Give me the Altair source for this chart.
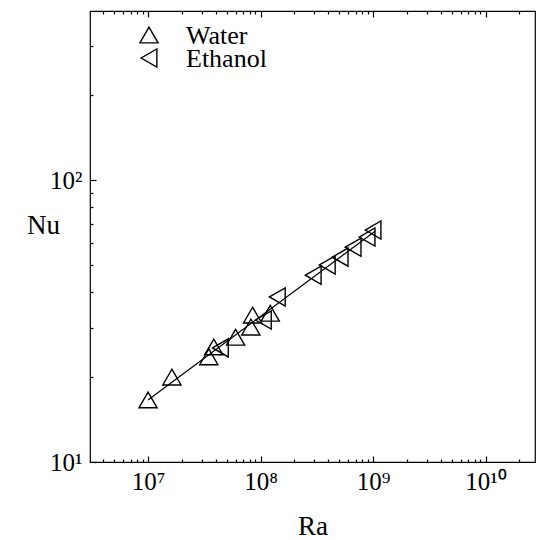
import altair as alt
import pandas as pd

# ---------------- data ----------------
water_ra = [1.0e7, 1.63e7, 3.47e7, 3.84e7, 6.0e7, 8.2e7, 8.5e7, 1.22e8]
water_nu = [16.6, 20.0, 23.6, 25.6, 27.7, 30.1, 33.2, 33.7]

ethanol_ra = [4.4e7, 1.06e8, 1.41e8, 2.94e8, 3.92e8, 5.1e8, 6.65e8, 8.85e8, 1.0e9]
ethanol_nu = [25.4, 31.9, 38.5, 46.0, 50.0, 53.3, 57.8, 62.8, 66.5]

fit_ra = [1.0e7, 1.05e9]
fit_nu = [16.6, 66.0]

x_major = [1e7, 1e8, 1e9, 1e10]
x_minor = [4e6, 5e6, 6e6, 7e6, 8e6, 9e6,
           2e7, 3e7, 4e7, 5e7, 6e7, 7e7, 8e7, 9e7,
           2e8, 3e8, 4e8, 5e8, 6e8, 7e8, 8e8, 9e8,
           2e9, 3e9, 4e9, 5e9, 6e9, 7e9, 8e9, 9e9,
           2e10]
y_major = [10, 100]
y_minor = [20, 30, 40, 50, 60, 70, 80, 90, 200, 300]

series_names = ["Water", "Ethanol"]
series_shapes = ["triangle-up", "triangle-left"]

pts_df = pd.DataFrame({
    "Ra": water_ra + ethanol_ra,
    "Nu": water_nu + ethanol_nu,
    "Fluid": ["Water"] * len(water_ra) + ["Ethanol"] * len(ethanol_ra),
})
fit_df = pd.DataFrame({"Ra": fit_ra, "Nu": fit_nu})

# ---------------- layout ----------------
W, H = 445, 451
FONT = "Liberation Serif"

xscale = alt.Scale(type="log", domain=[3.05e6, 2.75e10], nice=False)
yscale = alt.Scale(type="log", domain=[10, 398], nice=False)

sup = {1: "¹", 2: "²", 7: "⁷", 8: "⁸", 9: "⁹", 10: "¹⁰"}
expr = "''"
for k, v in sup.items():
    expr = f"(round(log(datum.value)/LN10) == {k} ? '{v}' : {expr})"
label_expr = "'10' + " + expr


def tick_axis(orient, values, size, offset):
    return alt.Axis(orient=orient, values=values, tickSize=size, tickWidth=1.2,
                    tickColor="black", labels=False, domain=False, grid=False,
                    title="", offset=offset)


x_label_axis = alt.Axis(orient="bottom", values=x_major, ticks=False, domain=False,
                        grid=False, labelExpr=label_expr, labelFont=FONT,
                        labelFontSize=25, labelColor="black", labelPadding=7,
                        title="Ra", titleFont=FONT, titleFontSize=27,
                        titleFontWeight="normal", titleColor="black",
                        titleBaseline="alphabetic", titleY=72)
y_label_axis = alt.Axis(orient="left", values=y_major, ticks=False, domain=False,
                        grid=False, labelExpr=label_expr, labelFont=FONT,
                        labelFontSize=25, labelColor="black", labelPadding=8,
                        title="Nu", titleFont=FONT, titleFontSize=27,
                        titleFontWeight="normal", titleColor="black",
                        titleAngle=0, titleAlign="center", titleBaseline="middle",
                        titleX=-47, titleY=214)

fit = alt.Chart(fit_df).mark_line(color="black", strokeWidth=1.2).encode(
    x=alt.X("Ra:Q", scale=xscale, axis=x_label_axis),
    y=alt.Y("Nu:Q", scale=yscale, axis=y_label_axis),
)

pts = alt.Chart(pts_df).mark_point(filled=False, color="black", strokeWidth=1.4,
                                   size=330, opacity=1).encode(
    x=alt.X("Ra:Q", scale=xscale, axis=tick_axis("top", x_major, 6, -H)),
    y=alt.Y("Nu:Q", scale=yscale, axis=tick_axis("right", y_major, 6, -W)),
    shape=alt.Shape("Fluid:N",
                    scale=alt.Scale(domain=series_names, range=series_shapes),
                    legend=None),
)

inv1 = alt.Chart(pts_df).mark_point(opacity=0).encode(
    x=alt.X("Ra:Q", scale=xscale, axis=tick_axis("top", x_minor, 3, -H)),
    y=alt.Y("Nu:Q", scale=yscale, axis=tick_axis("right", y_minor, 3, -W)),
)
inv2 = alt.Chart(pts_df).mark_point(opacity=0).encode(
    x=alt.X("Ra:Q", scale=xscale, axis=tick_axis("bottom", x_major, 6, -H)),
    y=alt.Y("Nu:Q", scale=yscale, axis=None),
)
inv3 = alt.Chart(pts_df).mark_point(opacity=0).encode(
    x=alt.X("Ra:Q", scale=xscale, axis=tick_axis("bottom", x_minor, 3, -H)),
    y=alt.Y("Nu:Q", scale=yscale, axis=None),
)

# legend (key in the top-left corner of the frame)
legend_rows = []
for i, (name, shp) in enumerate(zip(series_names, series_shapes)):
    ypos = 24 + 23 * i
    row_df = pd.DataFrame({"label": [name]})
    sym = alt.Chart(row_df).mark_point(shape=shp, filled=False, color="black",
                                       strokeWidth=1.4, size=330, opacity=1).encode(
        x=alt.value(59), y=alt.value(ypos))
    txt = alt.Chart(row_df).mark_text(align="left", baseline="middle", font=FONT,
                                      fontSize=26, color="black").encode(
        x=alt.value(96), y=alt.value(ypos + 1), text="label:N")
    legend_rows += [sym, txt]

chart = alt.layer(fit, pts, inv1, inv2, inv3, *legend_rows).resolve_axis(
    x="independent", y="independent"
).properties(
    width=W, height=H,
    autosize=alt.AutoSizeParams(type="none"),
    padding={"left": 90, "top": 11, "right": 1, "bottom": 78},
    background="white",
).configure(font=FONT).configure_view(stroke="black", strokeWidth=1.2)

chart.save("out.html", embed_options={"renderer": "svg", "actions": False})
